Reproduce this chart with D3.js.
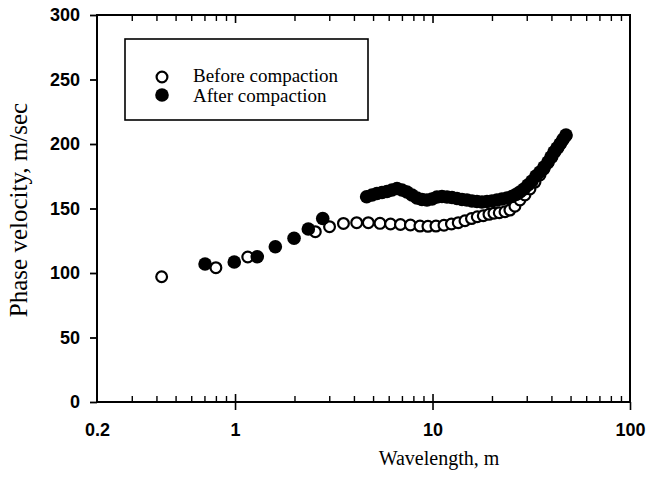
<!DOCTYPE html>
<html>
<head>
<meta charset="utf-8">
<script src="https://cdn.jsdelivr.net/npm/d3@7"></script>
<style>
  body { margin: 0; background: #fff; }
  .tickLbl text { font-family: "Liberation Sans", Arial, sans-serif; font-weight: bold; font-size: 18px; fill: #000; }
  .axisText { font-family: "Liberation Serif", "Times New Roman", serif; fill: #000; }
</style>
</head>
<body>
<div class="scatter"></div>
<script>
// values
var beforeWavelength = [0.425, 0.80, 1.16, 2.55, 3.01, 3.54, 4.13, 4.73, 5.42, 6.13, 6.88, 7.73, 8.64, 9.48,
    10.41, 11.43, 12.47, 13.50, 14.60, 15.75, 16.85, 18.07, 19.31, 20.47, 21.78, 23.28, 24.66, 26.14,
    27.72, 29.38, 31.14, 33.02, 35.0, 36.68, 38.42, 40.26, 41.68, 43.18, 44.72, 46.02, 47.4];
var beforeVelocity = [97.1, 104.1, 112.4, 132.0, 135.9, 138.4, 139.0, 139.0, 138.5, 138.0, 137.6, 137.2, 136.4, 136.2,
    136.4, 137.0, 138.0, 139.0, 140.5, 142.2, 143.6, 144.4, 145.5, 146.3, 146.7, 147.5, 148.8, 151.8,
    156.6, 160.5, 165.1, 170.5, 176.0, 180.6, 185.3, 189.9, 193.8, 196.9, 200.8, 203.9, 206.2];

var afterWavelength = [0.705, 0.991, 1.296, 1.60, 1.99, 2.35, 2.78,
    4.64, 4.94, 5.23, 5.55, 5.88, 6.23, 6.61, 7.00, 7.42, 7.87, 8.34, 8.84, 9.37, 9.94,
    10.53, 11.16, 11.84, 12.55, 13.30, 14.10, 14.94, 15.84, 16.79, 17.80, 18.87, 20.0,
    21.20, 22.47, 23.82, 25.26, 26.46, 27.72, 29.04, 30.42, 31.88, 33.40, 35.0, 36.68,
    38.42, 39.78, 41.20, 42.68, 44.20, 45.76, 47.4];
var afterVelocity = [107.0, 108.5, 112.6, 120.4, 126.9, 134.1, 142.2,
    159.1, 160.5, 161.6, 162.4, 163.2, 164.3, 165.5, 164.3, 162.8, 160.5, 158.1, 157.0, 156.6, 157.4,
    158.9, 159.3, 158.9, 158.5, 157.8, 157.0, 156.6, 155.8, 155.4, 155.0, 155.4, 155.8,
    156.6, 157.4, 158.1, 159.3, 160.9, 162.8, 165.1, 168.2, 171.3, 175.2, 178.3, 182.2,
    186.0, 189.9, 193.8, 196.9, 200.0, 203.5, 207.0];

var xMajorTicks = [0.2, 1, 10, 100];
var xMinorTicks = [0.3, 0.4, 0.5, 0.6, 0.7, 0.8, 0.9, 2, 3, 4, 5, 6, 7, 8, 9, 20, 30, 40, 50, 60, 70, 80, 90];
var yTicks = [0, 50, 100, 150, 200, 250, 300];
var legendLabels = ["Before compaction", "After compaction"];

var svgWidth = 649;
var svgHeight = 491;

var margin = {
    top: 15,
    right: 19,
    bottom: 89,
    left: 97
};

var chartWidth = svgWidth - margin.left - margin.right;
var chartHeight = svgHeight - margin.top - margin.bottom;

var svg = d3.select(".scatter")
    .append("svg")
    .attr("width", svgWidth)
    .attr("height", svgHeight)
    .style("background", "#fff");

var chartGroup = svg.append("g")
    .attr("transform", `translate(${margin.left}, ${margin.top})`);

var xLogScale = d3.scaleLog()
    .domain([0.2, 100])
    .range([0, chartWidth]);

var yLinearScale = d3.scaleLinear()
    .domain([0, 300])
    .range([chartHeight, 0]);

function styleTicks(g, width) {
    g.select(".domain").remove();
    g.selectAll("line").attr("stroke", "#000").attr("stroke-width", width);
}

// bottom: labels + outward part of major ticks
chartGroup.append("g")
    .attr("class", "tickLbl")
    .attr("transform", `translate(0, ${chartHeight})`)
    .call(d3.axisBottom(xLogScale).tickValues(xMajorTicks).tickFormat(d => d)
        .tickSizeInner(8).tickSizeOuter(0).tickPadding(13))
    .call(g => styleTicks(g, 1.6))
    .call(g => g.selectAll(".tick").filter(d => d == 0.2).select("line").remove());

// bottom inward ticks
chartGroup.append("g")
    .attr("transform", `translate(0, ${chartHeight})`)
    .call(d3.axisBottom(xLogScale).tickValues(xMinorTicks).tickFormat("").tickSizeInner(-6).tickSizeOuter(0))
    .call(g => styleTicks(g, 1.4));
chartGroup.append("g")
    .attr("transform", `translate(0, ${chartHeight})`)
    .call(d3.axisBottom(xLogScale).tickValues([1, 10]).tickFormat("").tickSizeInner(-8).tickSizeOuter(0))
    .call(g => styleTicks(g, 1.6));

// top inward ticks
chartGroup.append("g")
    .call(d3.axisTop(xLogScale).tickValues(xMinorTicks).tickFormat("").tickSizeInner(-6).tickSizeOuter(0))
    .call(g => styleTicks(g, 1.4));
chartGroup.append("g")
    .call(d3.axisTop(xLogScale).tickValues([1, 10]).tickFormat("").tickSizeInner(-8).tickSizeOuter(0))
    .call(g => styleTicks(g, 1.6));

// left axis
chartGroup.append("g")
    .attr("class", "tickLbl")
    .call(d3.axisLeft(yLinearScale).tickValues(yTicks).tickSizeInner(7).tickSizeOuter(0).tickPadding(10))
    .call(g => styleTicks(g, 1.8));

// frame
chartGroup.append("rect")
    .attr("x", 0)
    .attr("y", 0)
    .attr("width", chartWidth)
    .attr("height", chartHeight)
    .attr("fill", "none")
    .attr("stroke", "#000")
    .attr("stroke-width", 2);

var beforeData = beforeWavelength.map((w, i) => ({w: w, v: beforeVelocity[i]}));
var afterData = afterWavelength.map((w, i) => ({w: w, v: afterVelocity[i]}));

chartGroup.selectAll(".before")
    .data(beforeData)
    .enter()
    .append("circle")
    .attr("class", "before")
    .attr("cx", d => xLogScale(d.w))
    .attr("cy", d => yLinearScale(d.v))
    .attr("r", 5.4)
    .attr("fill", "#fff")
    .attr("stroke", "#000")
    .attr("stroke-width", 2.2);

chartGroup.selectAll(".after")
    .data(afterData)
    .enter()
    .append("circle")
    .attr("class", "after")
    .attr("cx", d => xLogScale(d.w))
    .attr("cy", d => yLinearScale(d.v))
    .attr("r", 6.8)
    .attr("fill", "#000");

// legend
var legend = chartGroup.append("g");
legend.append("rect")
    .attr("x", 28)
    .attr("y", 24)
    .attr("width", 243)
    .attr("height", 81)
    .attr("fill", "#fff")
    .attr("stroke", "#000")
    .attr("stroke-width", 1.6);

legend.append("circle")
    .attr("cx", 65).attr("cy", 62).attr("r", 5.4)
    .attr("fill", "#fff").attr("stroke", "#000").attr("stroke-width", 2.2);
legend.append("circle")
    .attr("cx", 65).attr("cy", 80).attr("r", 6.8)
    .attr("fill", "#000");

legend.selectAll(".legendText")
    .data(legendLabels)
    .enter()
    .append("text")
    .attr("class", "axisText")
    .attr("x", 96)
    .attr("y", (d, i) => 67 + i * 20)
    .attr("font-size", 19)
    .text(d => d);

// axis titles
chartGroup.append("text")
    .attr("transform", "rotate(-90)")
    .attr("y", 27 - margin.left)
    .attr("x", 0 - (210 - margin.top))
    .attr("text-anchor", "middle")
    .attr("class", "axisText")
    .attr("font-size", 25)
    .text("Phase velocity, m/sec");

chartGroup.append("text")
    .attr("transform", `translate(${439 - margin.left}, ${465 - margin.top})`)
    .attr("text-anchor", "middle")
    .attr("class", "axisText")
    .attr("font-size", 20)
    .text("Wavelength, m");
</script>
</body>
</html>
